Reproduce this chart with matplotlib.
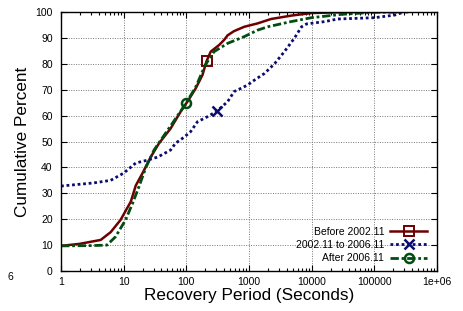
import matplotlib
matplotlib.use("Agg")
import matplotlib.pyplot as plt
from matplotlib.ticker import FixedLocator, LogLocator, NullFormatter

plt.rcParams['font.family'] = ['Liberation Sans', 'DejaVu Sans']

# data (seconds, cumulative percent)
before_x = [1, 2, 4.3, 6.2, 8.9, 13, 15.6, 20, 27, 36.6, 56, 81, 104, 141, 181,
            210, 245, 335, 400, 456, 575, 840, 1370, 2250, 4700, 9900, 30000,
            100000, 250000]
before_y = [9.7, 10.5, 12, 15, 19.7, 26.8, 33, 37.8, 44, 49.3, 55, 61.5, 65.4,
            70.5, 75.7, 81, 84.7, 87.3, 89.2, 91, 92.6, 94.3, 95.6, 97.3, 98.6,
            99.6, 99.9, 100, 100]

mid_x = [1, 3.3, 6.2, 10, 15.6, 24, 35, 56, 67, 90, 117, 150, 218, 310, 456,
         580, 740, 950, 1220, 1770, 2550, 3670, 5300, 6900, 8300, 16200, 26000,
         100000, 210000, 300000]
mid_y = [32.8, 34, 35, 37.8, 41.7, 42.8, 44, 46.7, 49.3, 51.5, 53.8, 57.6,
         59.6, 61.8, 65.4, 69.3, 70.5, 71.8, 73.7, 76.3, 80, 84.7, 89.9, 94.3,
         95.4, 96.3, 97.3, 97.8, 98.8, 100]

after_x = [1, 3, 5.4, 7.4, 10.7, 13.8, 17.5, 22.6, 30.5, 39, 56, 80, 100, 141,
           200, 277, 456, 840, 1370, 2000, 4700, 9900, 30000, 100000, 350000]
after_y = [9.7, 9.8, 10, 13.2, 19.7, 26, 32.5, 40, 46.7, 50.5, 56, 61.5, 65,
           71, 79.5, 84.7, 87.9, 90.5, 93, 94.3, 96.3, 97.8, 99.1, 99.9, 100]

labels = ["Before 2002.11", "2002.11 to 2006.11", "After 2006.11"]
x_ticks = [1, 10, 100, 1000, 10000, 100000, 1000000]
x_ticklabels = ["1", "10", "100", "1000", "10000", "100000", "1e+06"]
y_ticks = list(range(0, 101, 10))

fig = plt.figure(figsize=(4.64, 3.11), dpi=100)
ax = fig.add_axes([0.1315, 0.1286, 0.8103, 0.8328])

ax.plot(before_x, before_y, color='#6e0000', linewidth=1.8, linestyle='-',
        marker='s', markevery=[15], markersize=6.5, markerfacecolor='none',
        markeredgewidth=1.4, label=labels[0])
ax.plot(mid_x, mid_y, color='#0c0c70', linewidth=2.0, linestyle=(0, (1, 1)),
        marker='x', markevery=[13], markersize=6.5, markeredgewidth=1.8,
        label=labels[1])
ax.plot(after_x, after_y, color='#004d12', linewidth=2.0, linestyle=(0, (3, 1, 1, 1)),
        marker='o', markevery=[12], markersize=6.5, markerfacecolor='none',
        markeredgewidth=1.8, label=labels[2])

ax.set_xscale('log')
ax.set_xlim(1, 1e6)
ax.set_ylim(0, 100)
ax.xaxis.set_major_locator(FixedLocator(x_ticks))
ax.set_xticklabels(x_ticklabels)
ax.xaxis.set_minor_locator(LogLocator(base=10, subs=range(2, 10)))
ax.xaxis.set_minor_formatter(NullFormatter())
ax.set_yticks(y_ticks)

ax.tick_params(which='both', direction='in', top=True, right=True, labelsize=7.5,
               colors='black', width=0.8)
ax.tick_params(which='major', length=4)
ax.tick_params(which='minor', length=2)
ax.tick_params(axis='x', pad=4)
ax.tick_params(axis='y', pad=6)

ax.grid(True, which='major', linestyle=(0, (1, 1.5)), color='#777777', linewidth=0.7)
for s in ax.spines.values():
    s.set_linewidth(1.0)

ax.set_xlabel("Recovery Period (Seconds)", fontsize=12.3, labelpad=1)
ax.set_ylabel("Cumulative Percent", fontsize=12.3, labelpad=4)

ax.legend(loc='lower right', bbox_to_anchor=(0.973, 0.03), frameon=False,
          markerfirst=False, fontsize=7.5, handlelength=3.5, handletextpad=0.6,
          labelspacing=0.3, borderaxespad=0, borderpad=0)

fig.text(8 / 464, 1 - 277 / 311, "6", fontsize=7.5, ha='left', va='center')

fig.savefig("out.png", dpi=100)
